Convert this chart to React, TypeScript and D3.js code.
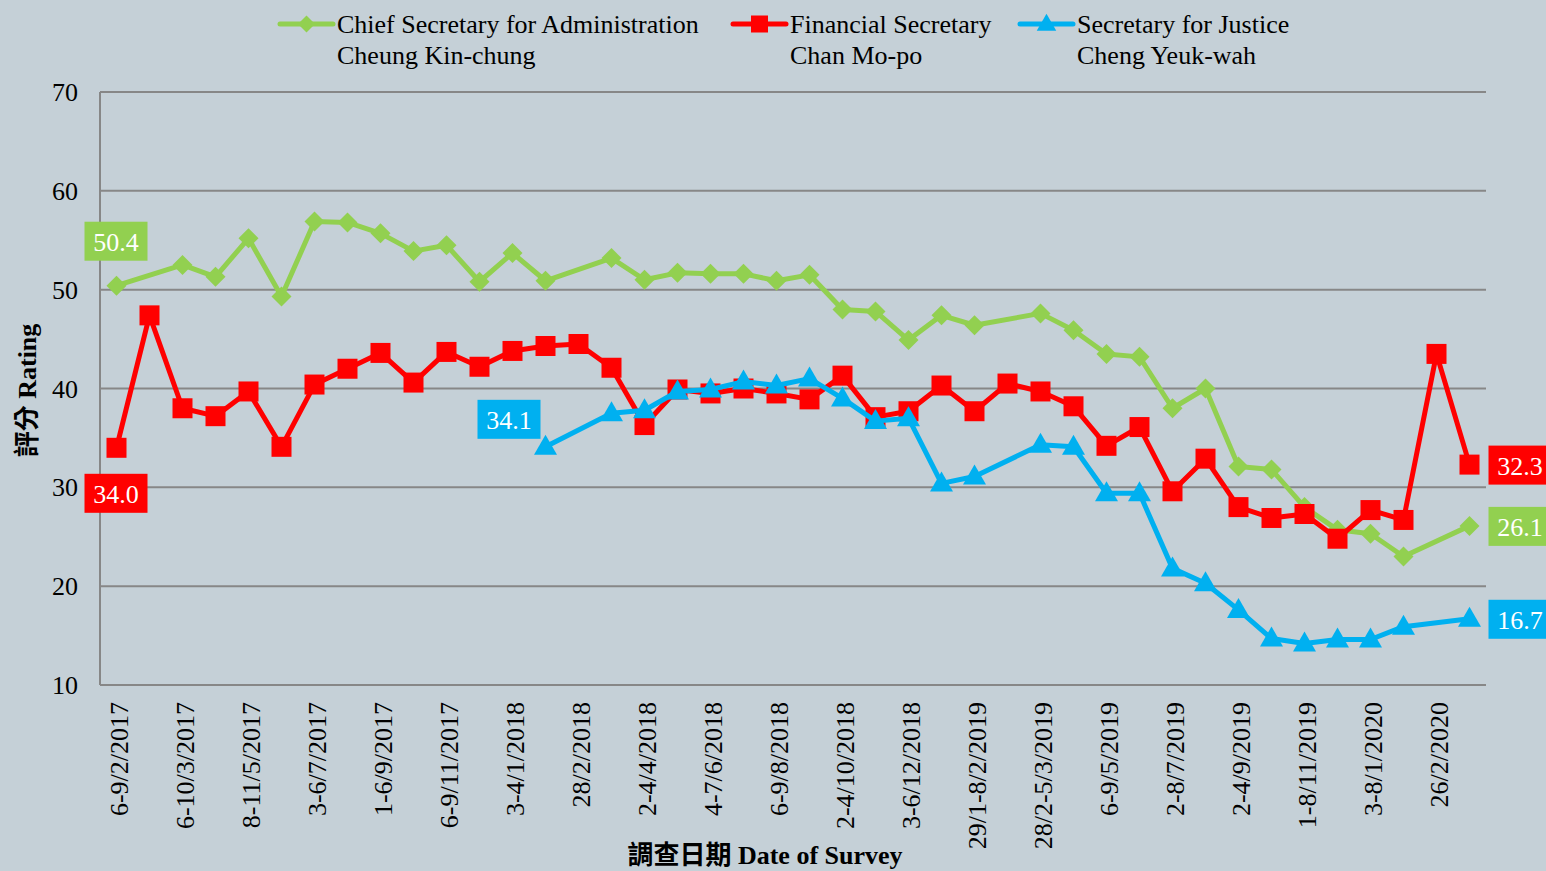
import React, { useEffect, useRef } from 'react';
import * as d3 from 'd3';

// survey dates shown on the x axis (every second survey is labelled)
const tickLabels = [
  '6-9/2/2017', '6-10/3/2017', '8-11/5/2017', '3-6/7/2017', '1-6/9/2017',
  '6-9/11/2017', '3-4/1/2018', '28/2/2018', '2-4/4/2018', '4-7/6/2018',
  '6-9/8/2018', '2-4/10/2018', '3-6/12/2018', '29/1-8/2/2019', '28/2-5/3/2019',
  '6-9/5/2019', '2-8/7/2019', '2-4/9/2019', '1-8/11/2019', '3-8/1/2020',
  '26/2/2020'
];
const surveyCount = 42;

// ratings per survey, null = not rated in that survey
const chiefSecretary = [
  50.4, null, 52.5, 51.3, 55.2, 49.3, 56.9, 56.8, 55.7, 53.9,
  54.5, 50.8, 53.7, 50.9, null, 53.2, 51.0, 51.7, 51.6, 51.6,
  50.9, 51.5, 48.0, 47.8, 44.9, 47.4, 46.4, null, 47.6, 45.9,
  43.5, 43.2, 38.0, 40.0, 32.1, 31.8, 28.0, 25.7, 25.3, 23.0,
  null, 26.1
];
const financialSecretary = [
  34.0, 47.4, 38.0, 37.2, 39.7, 34.1, 40.4, 42.0, 43.6, 40.6,
  43.7, 42.2, 43.8, 44.3, 44.5, 42.1, 36.3, 39.9, 39.5, 40.0,
  39.5, 38.9, 41.3, 37.1, 37.7, 40.3, 37.7, 40.5, 39.7, 38.2,
  34.2, 36.1, 29.6, 32.9, 28.0, 26.9, 27.3, 24.8, 27.7, 26.7,
  43.5, 32.3
];
const justiceSecretary = [
  null, null, null, null, null, null, null, null, null, null,
  null, null, null, 34.1, null, 37.5, 37.8, 39.7, 39.9, 40.7,
  40.3, 41.0, 39.0, 36.7, 37.0, 30.4, 31.1, null, 34.3, 34.1,
  29.4, 29.4, 21.8, 20.3, 17.6, 14.7, 14.2, 14.6, 14.6, 15.9,
  null, 16.7
];
const yTicks = [10, 20, 30, 40, 50, 60, 70];

const serif = '"Liberation Serif", "Times New Roman", "Noto Sans CJK TC", serif';

export default function App() {
  const ref = useRef<SVGSVGElement>(null);

  useEffect(() => {
    const W = 1546, H = 871;
    const margin = { top: 92, right: 60, bottom: 186, left: 100 };

    const svg = d3.select(ref.current);
    svg.selectAll('*').remove();

    svg.append('rect').attr('width', W).attr('height', H).attr('fill', '#C5D0D7');

    const x = d3.scalePoint<number>()
      .domain(d3.range(surveyCount))
      .range([margin.left, W - margin.right])
      .padding(0.5);
    const y = d3.scaleLinear()
      .domain([10, 70])
      .range([H - margin.bottom, margin.top]);

    // grid
    svg.append('g')
      .selectAll('line')
      .data(yTicks)
      .enter()
      .append('line')
      .attr('x1', margin.left)
      .attr('x2', W - margin.right)
      .attr('y1', d => y(d))
      .attr('y2', d => y(d))
      .attr('stroke', '#878787')
      .attr('stroke-width', 2);
    svg.append('line')
      .attr('x1', margin.left).attr('x2', margin.left)
      .attr('y1', y(70)).attr('y2', y(10))
      .attr('stroke', '#878787').attr('stroke-width', 2);

    // y tick labels
    svg.append('g')
      .selectAll('text')
      .data(yTicks)
      .enter()
      .append('text')
      .attr('x', 78)
      .attr('y', d => y(d))
      .attr('dy', '0.35em')
      .attr('text-anchor', 'end')
      .style('font', `26px ${serif}`)
      .text(d => d);

    // x tick labels
    svg.append('g')
      .selectAll('text')
      .data(tickLabels)
      .enter()
      .append('text')
      .attr('transform', (d, i) => `translate(${x(i * 2)! + 2},${y(10) + 17}) rotate(-90)`)
      .attr('dy', '0.35em')
      .attr('text-anchor', 'end')
      .style('font', `26px ${serif}`)
      .text(d => d);

    // axis titles
    const yTitle = svg.append('text')
      .attr('transform', `translate(36,${(y(10) + y(70)) / 2 + 2}) rotate(-90)`)
      .attr('text-anchor', 'middle')
      .style('font', `bold 26px ${serif}`);
    yTitle.append('tspan').text('評分 ');
    yTitle.append('tspan').text('Rating');

    svg.append('text')
      .attr('x', 765)
      .attr('y', 864)
      .attr('text-anchor', 'middle')
      .style('font', `bold 26px ${serif}`)
      .text('調查日期 Date of Survey');

    const diamond = 'M0,-10L10,0L0,10L-10,0Z';
    const square = 'M-10,-10H10V10H-10Z';
    const triangle = 'M0,-12L11.5,8L-11.5,8Z';

    const series = [
      { name: ['Chief Secretary for Administration', 'Cheung Kin-chung'], values: chiefSecretary, color: '#92D050', marker: diamond, legendX: 280 },
      { name: ['Financial Secretary', 'Chan Mo-po'], values: financialSecretary, color: '#FF0000', marker: square, legendX: 733 },
      { name: ['Secretary for Justice', 'Cheng Yeuk-wah'], values: justiceSecretary, color: '#00B0F0', marker: triangle, legendX: 1020 }
    ];

    const line = d3.line<[number, number]>()
      .x(d => x(d[0])!)
      .y(d => y(d[1]));

    series.forEach(s => {
      const pts = s.values
        .map((v, i) => [i, v] as [number, number | null])
        .filter(d => d[1] != null) as [number, number][];
      const g = svg.append('g');
      g.append('path')
        .datum(pts)
        .attr('d', line)
        .attr('fill', 'none')
        .attr('stroke', s.color)
        .attr('stroke-width', 5)
        .attr('stroke-linejoin', 'round');
      g.selectAll('path.m')
        .data(pts)
        .enter()
        .append('path')
        .attr('class', 'm')
        .attr('d', s.marker)
        .attr('transform', d => `translate(${x(d[0])},${y(d[1])})`)
        .attr('fill', s.color);

      // legend
      const lg = svg.append('g');
      lg.append('line')
        .attr('x1', s.legendX).attr('x2', s.legendX + 53)
        .attr('y1', 24).attr('y2', 24)
        .attr('stroke', s.color).attr('stroke-width', 5)
        .attr('stroke-linecap', 'round');
      lg.append('path')
        .attr('d', s.marker)
        .attr('transform', `translate(${s.legendX + 26.5},24) scale(0.85)`)
        .attr('fill', s.color);
      s.name.forEach((t, k) => {
        lg.append('text')
          .attr('x', s.legendX + 57)
          .attr('y', 33 + k * 31)
          .style('font', `26px ${serif}`)
          .text(t);
      });
    });

    // value boxes
    const boxes = [
      { values: chiefSecretary, idx: 0, color: '#92D050', dx: -32, dy: -64 },
      { values: financialSecretary, idx: 0, color: '#FF0000', dx: -32, dy: 26 },
      { values: justiceSecretary, idx: 13, color: '#00B0F0', dx: -68, dy: -47 },
      { values: financialSecretary, idx: 41, color: '#FF0000', dx: 19, dy: -19 },
      { values: chiefSecretary, idx: 41, color: '#92D050', dx: 19, dy: -19 },
      { values: justiceSecretary, idx: 41, color: '#00B0F0', dx: 19, dy: -19 }
    ];
    boxes.forEach(b => {
      const v = b.values[b.idx] as number;
      const bx = x(b.idx)! + b.dx;
      const by = y(v) + b.dy;
      svg.append('rect')
        .attr('x', bx).attr('y', by)
        .attr('width', 63).attr('height', 39)
        .attr('fill', b.color);
      svg.append('text')
        .attr('x', bx + 31.5).attr('y', by + 20)
        .attr('dy', '0.35em')
        .attr('text-anchor', 'middle')
        .attr('fill', '#fff')
        .style('font', `26px ${serif}`)
        .text(v.toFixed(1));
    });
  }, []);

  return (
    <svg
      ref={ref}
      width={1546}
      height={871}
      style={{ position: 'absolute', left: 0, top: 0 }}
    />
  );
}
